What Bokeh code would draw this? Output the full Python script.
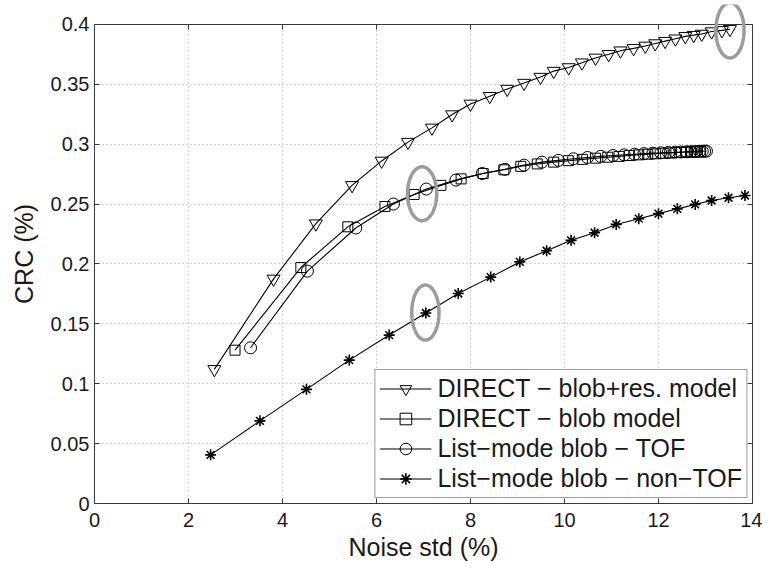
import numpy as np
from bokeh.plotting import figure
from bokeh.models import LinearAxis, FixedTicker, Range1d, Legend, LegendItem, PolyAnnotation, BoxAnnotation
from bokeh.embed import file_html
from bokeh.resources import INLINE

# ---- data ----
tri_x = [2.55, 3.81, 4.71, 5.48, 6.11, 6.67, 7.18, 7.61, 8.00, 8.41, 8.78, 9.14, 9.49, 9.77, 10.09,
         10.37, 10.66, 10.94, 11.19, 11.47, 11.72, 11.93, 12.14, 12.36, 12.57, 12.75, 12.92, 13.13, 13.35, 13.52]
tri_y = [0.112, 0.1875, 0.2336, 0.2656, 0.286, 0.3017, 0.3136, 0.3247, 0.3336, 0.340, 0.346, 0.351, 0.356, 0.361, 0.364,
         0.368, 0.372, 0.375, 0.378, 0.380, 0.382, 0.384, 0.386, 0.388, 0.390, 0.391, 0.392, 0.394, 0.395, 0.396]

sq_x = [2.99, 4.39, 5.39, 6.18, 6.80, 7.37, 7.80, 8.27, 8.71, 9.07, 9.42, 9.77, 10.08, 10.38, 10.66,
        10.92, 11.16, 11.38, 11.58, 11.77, 11.94, 12.10, 12.24, 12.37, 12.49, 12.59, 12.68, 12.76, 12.83, 12.89]
sq_y = [0.128, 0.197, 0.231, 0.248, 0.258, 0.2656, 0.271, 0.2755, 0.2786, 0.2815, 0.2835, 0.285, 0.2862, 0.2873, 0.2883,
        0.2891, 0.2898, 0.2905, 0.2911, 0.2916, 0.2920, 0.2924, 0.2927, 0.2930, 0.2932, 0.2934, 0.2936, 0.2937, 0.2938, 0.2939]

ci_x = [3.32, 4.53, 5.56, 6.36, 7.06, 7.69, 8.25, 8.73, 9.14, 9.52, 9.87, 10.19, 10.49, 10.77, 11.03,
        11.27, 11.49, 11.69, 11.88, 12.05, 12.21, 12.35, 12.48, 12.60, 12.70, 12.79, 12.87, 12.93, 12.98, 13.02]
ci_y = [0.130, 0.194, 0.230, 0.250, 0.2625, 0.270, 0.2755, 0.279, 0.2825, 0.285, 0.2865, 0.2878, 0.2889, 0.2898, 0.2905,
        0.2911, 0.2916, 0.2921, 0.2925, 0.2928, 0.2931, 0.2933, 0.2935, 0.2937, 0.2938, 0.2939, 0.2940, 0.2941, 0.2941, 0.2942]

st_x = [2.47, 3.52, 4.51, 5.42, 6.27, 7.05, 7.74, 8.43, 9.05, 9.62, 10.14, 10.64, 11.10, 11.58, 12.00,
        12.40, 12.78, 13.13, 13.49, 13.84]
st_y = [0.0406, 0.069, 0.0953, 0.1197, 0.1406, 0.159, 0.1753, 0.189, 0.2017, 0.211, 0.2197, 0.226, 0.233, 0.2378, 0.242,
        0.246, 0.2497, 0.253, 0.2553, 0.2572]

labels = ["DIRECT \u2212 blob+res. model", "DIRECT \u2212 blob model",
          "List\u2212mode blob \u2212 TOF", "List\u2212mode blob \u2212 non\u2212TOF"]

# highlight ellipses (centre x, centre y, full width, full height in data units)
ell_x = [13.52, 6.97, 7.04]
ell_y = [0.395, 0.2586, 0.1594]
ell_w = [0.60, 0.62, 0.58]
ell_h = [0.046, 0.045, 0.046]

x_ticks = [0, 2, 4, 6, 8, 10, 12, 14]
y_ticks = [0, 0.05, 0.1, 0.15, 0.2, 0.25, 0.3, 0.35, 0.4]
y_tick_labels = ["0", "0.05", "0.1", "0.15", "0.2", "0.25", "0.3", "0.35", "0.4"]

X_MIN, X_MAX = 0, 14
Y_MIN, Y_MAX = 0, 0.4
# a little head-room above the axes box so the top highlight ellipse is not clipped
Y_VIEW_MAX = Y_MAX * 502 / 482

FONT = "Liberation Sans"
AX_COL = "#3a3a3a"
TXT_COL = "#1a1a1a"

p = figure(width=762, height=563, output_backend="svg", toolbar_location=None,
           x_range=Range1d(X_MIN, X_MAX), y_range=Range1d(Y_MIN, Y_VIEW_MAX),
           min_border_left=94, min_border_right=10, min_border_top=4, min_border_bottom=57)
p.background_fill_color = "white"
p.border_fill_color = "white"
p.outline_line_color = None

# grid
p.xgrid.ticker = FixedTicker(ticks=x_ticks)
p.ygrid.ticker = FixedTicker(ticks=y_ticks)
for g in [p.xgrid[0], p.ygrid[0]]:
    g.grid_line_color = "#a8a8a8"
    g.grid_line_dash = "1 3"
    g.grid_line_width = 1

# white mask above the axes box (hides the grid head-room)
p.add_layout(BoxAnnotation(bottom=Y_MAX, fill_color="white", fill_alpha=1,
                           line_color=None, level="underlay"))

# axes
for ax in [p.xaxis[0], p.yaxis[0]]:
    ax.axis_line_color = AX_COL
    ax.major_tick_line_color = AX_COL
    ax.major_tick_in = 5
    ax.major_tick_out = 0
    ax.minor_tick_line_color = None
    ax.major_label_text_font = FONT
    ax.major_label_text_font_size = "20px"
    ax.major_label_text_color = TXT_COL
    ax.axis_label_text_font = FONT
    ax.axis_label_text_font_size = "25px"
    ax.axis_label_text_font_style = "normal"
    ax.axis_label_text_color = TXT_COL

p.xaxis[0].ticker = FixedTicker(ticks=x_ticks)
p.yaxis[0].ticker = FixedTicker(ticks=y_ticks)
p.yaxis[0].bounds = (Y_MIN, Y_MAX)
p.yaxis[0].major_label_overrides = {t: l for t, l in zip(y_ticks, y_tick_labels)}
p.xaxis[0].axis_label = "Noise std (%)"
p.yaxis[0].axis_label = "CRC (%)"
p.xaxis[0].major_label_standoff = 9
p.xaxis[0].axis_label_standoff = 3
p.yaxis[0].major_label_standoff = 5
p.yaxis[0].axis_label_standoff = 10

# mirror axes (top/right) with inward ticks only
top = LinearAxis(ticker=FixedTicker(ticks=x_ticks), fixed_location=Y_MAX)
right = LinearAxis(ticker=FixedTicker(ticks=y_ticks), bounds=(Y_MIN, Y_MAX))
for ax in [top, right]:
    ax.axis_line_color = AX_COL
    ax.major_tick_line_color = AX_COL
    ax.major_tick_in = 5
    ax.major_tick_out = 0
    ax.minor_tick_line_color = None
    ax.major_label_text_font_size = "0px"
    ax.major_label_text_alpha = 0
    ax.major_label_standoff = 0
p.add_layout(top, "above")
p.add_layout(right, "right")

items = []
series = [
    (tri_x, tri_y, "inverted_triangle", 13, 1.0),
    (sq_x, sq_y, "square", 10, 1.0),
    (ci_x, ci_y, "circle", 12, 1.0),
    (st_x, st_y, "asterisk", 11, 1.6),
]
for (xs, ys, marker, size, mlw), lab in zip(series, labels):
    r1 = p.line(xs, ys, line_color="black", line_width=1.1)
    r2 = p.scatter(xs, ys, marker=marker, size=size, line_color="black",
                   fill_color=None, line_width=mlw)
    items.append(LegendItem(label=lab, renderers=[r1, r2]))

# grey highlight ellipses
t = np.linspace(0, 2 * np.pi, 90)
for cx, cy, w, h in zip(ell_x, ell_y, ell_w, ell_h):
    xs = list(cx + 0.5 * w * np.cos(t))
    ys = list(cy + 0.5 * h * np.sin(t))
    p.add_layout(PolyAnnotation(xs=xs, ys=ys, fill_color=None, fill_alpha=0,
                                line_color="#9c9c9c", line_alpha=1.0, line_width=3.5))

legend = Legend(items=items, location="bottom_right")
legend.label_text_font = FONT
legend.label_text_font_size = "25px"
legend.label_text_color = TXT_COL
legend.glyph_width = 52
legend.glyph_height = 29
legend.label_height = 29
legend.spacing = 1
legend.padding = 4
legend.margin = 5
legend.label_standoff = 6
legend.border_line_color = AX_COL
legend.border_line_width = 1
legend.background_fill_color = "white"
legend.background_fill_alpha = 1
p.add_layout(legend, "center")

open("out.html", "w").write(file_html(p, INLINE))
